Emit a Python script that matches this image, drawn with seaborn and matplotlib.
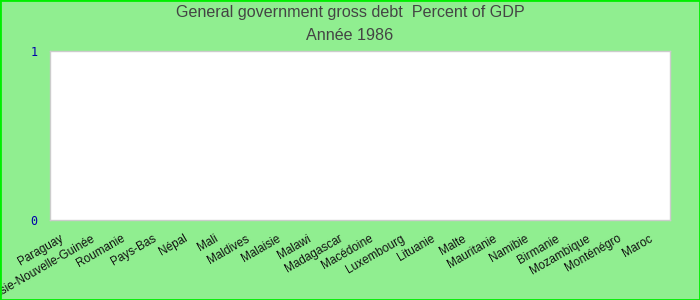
import matplotlib
matplotlib.use("Agg")
import matplotlib.pyplot as plt
import matplotlib.transforms as mtransforms
import seaborn as sns
import pandas as pd
from matplotlib.patches import Rectangle

countries = ["Paraguay", "Papouasie-Nouvelle-Guinée", "Roumanie", "Pays-Bas", "Népal",
             "Mali", "Maldives", "Malaisie", "Malawi", "Madagascar", "Macédoine",
             "Luxembourg", "Lituanie", "Malte", "Mauritanie", "Namibie", "Birmanie",
             "Mozambique", "Monténégro", "Maroc"]
values = [0] * len(countries)
yticks = [0, 1]

title1 = "General government gross debt  Percent of GDP"
title2 = "Année 1986"

sns.set_theme(style="white")
plt.rcParams['font.family'] = ['Liberation Sans', 'DejaVu Sans']

df = pd.DataFrame({"pays": countries, "valeur": values})

fig = plt.figure(figsize=(7, 3), dpi=100, facecolor="#90ee90")
ax = fig.add_axes([50/700, 1 - 220/300, 620/700, 169/300])
sns.barplot(data=df, x="pays", y="valeur", ax=ax, color="#4472c4")
ax.set_facecolor("white")
ax.set_ylim(0, 1)
ax.set_yticks(yticks)
ax.set_yticklabels([str(t) for t in yticks], color="#0000aa",
                   family="DejaVu Sans Mono", fontsize=8.5)
ax.set_xlabel("")
ax.set_ylabel("")
ax.tick_params(axis="both", length=0)
ax.tick_params(axis="y", pad=9)
ax.set_xticks(range(len(countries)))
ax.set_xticklabels(countries, rotation=30, ha="right", rotation_mode="anchor",
                   fontsize=8.5, color="#111111")
ax.tick_params(axis="x", pad=4)
offset = mtransforms.ScaledTranslation(-6/100, -7/100, fig.dpi_scale_trans)
for lbl in ax.get_xticklabels():
    lbl.set_transform(lbl.get_transform() + offset)
for s in ax.spines.values():
    s.set_color("#cccccc")
    s.set_linewidth(1)

fig.text(0.5, 1 - 13/300, title1, ha="center", va="center", fontsize=11.6, color="#444444")
fig.text(0.5, 1 - 36/300, title2, ha="center", va="center", fontsize=11.6, color="#444444")

fig.patches.append(Rectangle((0, 0), 1, 1, transform=fig.transFigure, fill=False,
                             edgecolor="#00ee00", linewidth=2, zorder=10))
fig.savefig("out.png", dpi=100, facecolor=fig.get_facecolor())
